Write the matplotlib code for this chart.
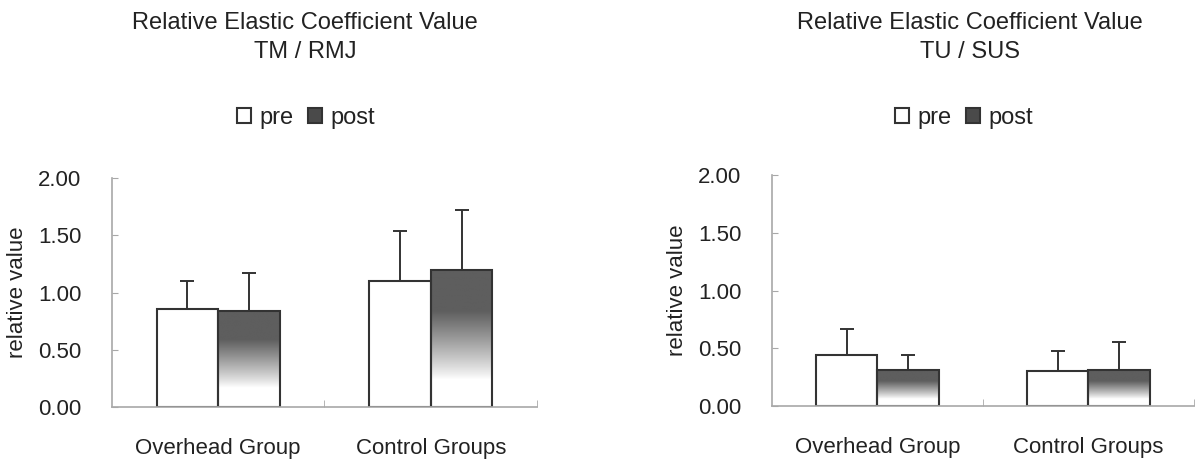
import numpy as np
import matplotlib
matplotlib.use("Agg")
import matplotlib.pyplot as plt
from matplotlib.patches import Patch
from matplotlib.colors import LinearSegmentedColormap

plt.rcParams['font.family'] = ['Liberation Sans', 'DejaVu Sans']

groups = ['Overhead Group', 'Control Groups']
yticks = [0.0, 0.5, 1.0, 1.5, 2.0]

# TM / RMJ
tm_pre = [0.86, 1.10]
tm_pre_sd = [0.24, 0.44]
tm_post = [0.84, 1.20]
tm_post_sd = [0.33, 0.52]

# TU / SUS
tu_pre = [0.44, 0.30]
tu_pre_sd = [0.23, 0.18]
tu_post = [0.31, 0.31]
tu_post_sd = [0.13, 0.24]

TXT = '#222222'
EDGE = '#333333'
AXC = '#a8a8a8'
grad_cmap = LinearSegmentedColormap.from_list('g', ['#ffffff', '#5e5e5e'])


def fade(bar, ax):
    # vertical gradient: white near bottom, dark over the top part
    x, w, h = bar.get_x(), bar.get_width(), bar.get_height()
    t = np.linspace(0, 1, 200)
    v = np.clip((t - 0.2) / 0.5, 0, 1) ** 0.9
    ax.imshow(v[:, None], extent=(x, x + w, 0, h), origin='lower', cmap=grad_cmap,
              vmin=0, vmax=1, aspect='auto', zorder=1.5, interpolation='bilinear')


def panel(ax, pre, pre_sd, post, post_sd):
    x = np.arange(len(groups))
    w = 0.29
    ax.bar(x - w / 2, pre, w, color='white', edgecolor=EDGE, lw=1.5, zorder=2)
    b2 = ax.bar(x + w / 2, post, w, color='none', edgecolor=EDGE, lw=1.5, zorder=2)
    for b in b2:
        fade(b, ax)
    ax.errorbar(x - w / 2, pre, yerr=[np.zeros(len(pre)), pre_sd], fmt='none',
                ecolor=EDGE, elinewidth=1.4, capsize=5, capthick=1.4, zorder=3)
    ax.errorbar(x + w / 2, post, yerr=[np.zeros(len(post)), post_sd], fmt='none',
                ecolor=EDGE, elinewidth=1.4, capsize=5, capthick=1.4, zorder=3)
    ax.set_xlim(-0.5, 1.5)
    ax.set_ylim(0, 2.0)
    ax.set_yticks(yticks)
    ax.set_yticklabels([f'{v:.2f}' for v in yticks])
    ax.set_xticks(x)
    ax.set_xticklabels(groups)
    ax.set_xticks([0.5, 1.5], minor=True)
    ax.tick_params(axis='x', which='major', length=0, pad=22, labelsize=16, labelcolor=TXT)
    ax.tick_params(axis='x', which='minor', direction='in', length=5, color=AXC)
    ax.tick_params(axis='y', direction='in', length=4, color=AXC, pad=22,
                   labelsize=16, labelcolor=TXT)
    for s in ['top', 'right']:
        ax.spines[s].set_visible(False)
    for s in ['left', 'bottom']:
        ax.spines[s].set_color(AXC)
        ax.spines[s].set_linewidth(1.2)
    ax.set_ylabel('relative value', fontsize=16, color=TXT)


fig = plt.figure(figsize=(12, 4.73), dpi=100)
ax1 = fig.add_axes([0.0933, 0.1395, 0.3542, 0.4842])
ax2 = fig.add_axes([0.6433, 0.1416, 0.3517, 0.4884])

panel(ax1, tm_pre, tm_pre_sd, tm_post, tm_post_sd)
panel(ax2, tu_pre, tu_pre_sd, tu_post, tu_post_sd)
ax1.yaxis.set_label_coords(-0.198, 0.5)
ax2.yaxis.set_label_coords(-0.198, 0.5)

handles = [Patch(facecolor='white', edgecolor=EDGE, lw=1.5, label='pre'),
           Patch(facecolor='#4a4a4a', edgecolor=EDGE, lw=1.5, label='post')]

for cx, sub in [(305, 'TM / RMJ'), (970, 'TU / SUS')]:
    fig.text(cx / 1200, 1 - 23 / 473, 'Relative Elastic Coefficient Value', ha='center',
             va='center', fontsize=17, color=TXT)
    fig.text(cx / 1200, 1 - 52 / 473, sub, ha='center', va='center', fontsize=17, color=TXT)

for cx in [306, 964]:
    fig.legend(handles=handles, loc='center', bbox_to_anchor=(cx / 1200, 1 - 118 / 473),
               ncol=2, frameon=False, fontsize=17, handlelength=0.6, handleheight=0.6,
               handletextpad=0.35, columnspacing=0.6, labelcolor=TXT)

fig.savefig('out.png', dpi=100, facecolor='white')
